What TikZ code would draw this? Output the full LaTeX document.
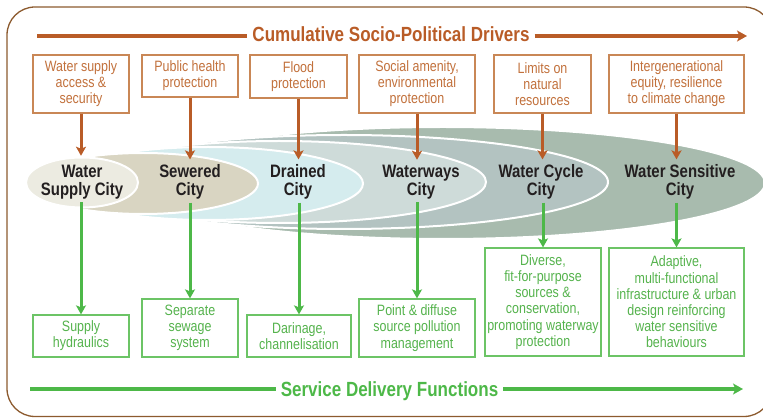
\documentclass[tikz,border=0pt]{standalone}
\usepackage{fontspec}
\setmainfont{Liberation Sans}[FakeStretch=0.83]
\usetikzlibrary{arrows.meta}

\definecolor{framec}{HTML}{8C5A2E}
\definecolor{drvarrow}{HTML}{B95C27}
\definecolor{drvline}{HTML}{C98756}
\definecolor{drvtext}{HTML}{C2713C}
\definecolor{svcgreen}{HTML}{4DB848}
\definecolor{svcline}{HTML}{6CC466}
\definecolor{svctext}{HTML}{55B34D}
\definecolor{citytext}{HTML}{231F20}
\definecolor{cWS}{HTML}{ECEBE1}
\definecolor{cSew}{HTML}{D9D5C2}
\definecolor{cDrn}{HTML}{D5ECEE}
\definecolor{cWwy}{HTML}{CEDBD9}
\definecolor{cCyc}{HTML}{B3C3C1}
\definecolor{cSen}{HTML}{A8BBAE}

\tikzset{
  driver/.style={draw=drvline, line width=1.2pt, fill=white, text=drvtext,
    font=\fontsize{15}{16}\selectfont, align=center, inner sep=0pt},
  service/.style={draw=svcline, line width=1.2pt, fill=white, text=svctext,
    font=\fontsize{15}{16.2}\selectfont, align=center, inner sep=0pt},
  city/.style={text=citytext, font=\bfseries\fontsize{18}{18}\selectfont,
    align=center, inner sep=3pt},
  stage/.style={draw=white, line width=2pt},
  drvarr/.style={draw=drvarrow, line width=3pt,
    -{Stealth[length=9pt,width=10pt,inset=2pt]}},
  svcarr/.style={draw=svcgreen, line width=3pt,
    -{Stealth[length=9pt,width=10pt,inset=2pt]}},
  axislabel/.style={font=\bfseries\fontsize{20.5}{22}\selectfont, inner sep=5pt, anchor=base}
}

\begin{document}
\begin{tikzpicture}[x=1pt,y=-1pt]
\useasboundingbox (0,0) rectangle (763,419);
\clip (0,0) rectangle (763,419);

% outer frame
\draw[framec, line width=1.3pt, rounded corners=28pt] (7,7) rectangle (772,416.5);

% nested city stages, widest first
\filldraw[stage, fill=cSen] (443,183) ellipse [x radius=322pt, y radius=56pt];
\filldraw[stage, fill=cCyc] (344,182) ellipse [x radius=264pt, y radius=47pt];
\filldraw[stage, fill=cWwy] (279,182) ellipse [x radius=207pt, y radius=41pt];
\filldraw[stage, fill=cDrn] (208,183.5) ellipse [x radius=155pt, y radius=36.5pt];
\filldraw[stage, fill=cSew] (143,183.5) ellipse [x radius=115pt, y radius=30.5pt];
\filldraw[stage, fill=cWS] (82,182.5) ellipse [x radius=56pt, y radius=25pt];

% city labels
\node[city] (c1) at (82,182) {Water\\Supply City};
\node[city] (c2) at (190,182) {Sewered\\City};
\node[city] (c3) at (298,182) {Drained\\City};
\node[city] (c4) at (421,182) {Waterways\\City};
\node[city] (c5) at (541,182) {Water Cycle\\City};
\node[city] (c6) at (680,182) {Water Sensitive\\City};

% drivers
\node[driver, minimum width=96pt, minimum height=58pt] (d1) at (81,84) {Water supply\\access \&\\security};
\node[driver, minimum width=96pt, minimum height=42pt] (d2) at (190,76) {Public health\\protection};
\node[driver, minimum width=97pt, minimum height=43pt] (d3) at (298.5,76.5) {Flood\\protection};
\node[driver, minimum width=116pt, minimum height=58pt] (d4) at (417,84) {Social amenity,\\environmental\\protection};
\node[driver, minimum width=97pt, minimum height=58pt] (d5) at (542.5,84) {Limits on\\natural\\resources};
\node[driver, minimum width=135pt, minimum height=58pt] (d6) at (676.5,84) {Intergenerational\\equity, resilience\\to climate change};

% service functions
\node[service, minimum width=96pt, minimum height=42pt] (s1) at (81,336) {Supply\\hydraulics};
\node[service, minimum width=96pt, minimum height=58pt] (s2) at (190,328) {Separate\\sewage\\system};
\node[service, minimum width=104pt, minimum height=42pt] (s3) at (299,336) {Darinage,\\channelisation};
\node[service, minimum width=116pt, minimum height=58pt] (s4) at (417,328) {Point \& diffuse\\source pollution\\management};
\node[service, minimum width=116pt, minimum height=108pt] (s5) at (543,302) {Diverse,\\fit-for-purpose\\sources \&\\conservation,\\promoting waterway\\protection};
\node[service, minimum width=135pt, minimum height=108pt] (s6) at (676.5,302) {Adaptive,\\multi-functional\\infrastructure \& urban\\design reinforcing\\water sensitive\\behaviours};

% driver arrows into the stages
\draw[drvarr] (d1.south) -- ([yshift=6pt]c1.north -| d1.south);
\foreach \i in {2,...,6}{
  \draw[drvarr] (d\i.south) -- ([yshift=2pt]c\i.north -| d\i.south);
}

% stage arrows into the service functions
\foreach \i in {1,...,6}{
  \draw[svcarr] (s\i.north |- c\i.south) -- (s\i.north);
}

% cumulative drivers axis
\node[axislabel, text=drvarrow] (top) at (391,42) {Cumulative Socio-Political Drivers};
\coordinate (topL) at (37,36);
\coordinate (topR) at (747,36);
\draw[drvarrow, line width=3.5pt] (topL) -- (topL -| top.west);
\draw[drvarrow, line width=3.5pt, -{Stealth[length=10pt,width=11pt,inset=2.5pt]}] (top.east |- topR) -- (topR);

% service delivery axis
\node[axislabel, text=svcgreen] (bot) at (389.5,396) {Service Delivery Functions};
\coordinate (botL) at (30,389);
\coordinate (botR) at (743,389);
\draw[svcgreen, line width=3.5pt] (botL) -- (botL -| bot.west);
\draw[svcgreen, line width=3.5pt, -{Stealth[length=10pt,width=11pt,inset=2.5pt]}] (bot.east |- botR) -- (botR);
\end{tikzpicture}
\end{document}
